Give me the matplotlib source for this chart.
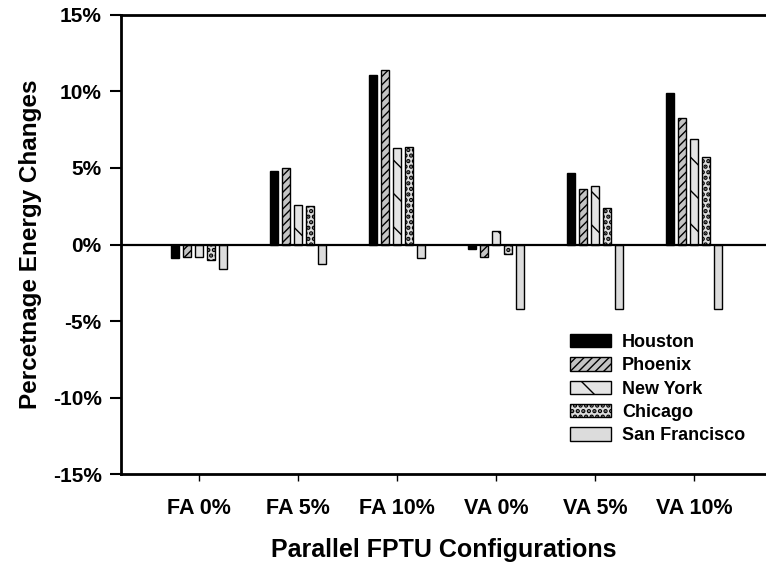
import numpy as np
import matplotlib
matplotlib.use("Agg")
import matplotlib.pyplot as plt
from matplotlib.patches import Patch
from matplotlib.ticker import FuncFormatter

# Configurations and per-city energy changes (%)
configs = ["FA 0%", "FA 5%", "FA 10%", "VA 0%", "VA 5%", "VA 10%"]
cities = ["Houston", "Phoenix", "New York", "Chicago", "San Francisco"]

houston = [-0.9, 4.8, 11.1, -0.3, 4.7, 9.9]
phoenix = [-0.8, 5.0, 11.4, -0.8, 3.6, 8.3]
new_york = [-0.8, 2.6, 6.3, 0.9, 3.8, 6.9]
chicago = [-1.0, 2.5, 6.4, -0.6, 2.4, 5.7]
san_francisco = [-1.6, -1.3, -0.85, -4.2, -4.2, -4.2]

series = [houston, phoenix, new_york, chicago, san_francisco]
faces = ["#000000", "#c4c4c4", "#e4e4e4", "#dedede", "#dcdcdc"]
hatches = [None, "////", "\\", "...", None]
hatch_widths = [1.0, 1.0, 1.0, 2.2, 1.0]

plt.rcParams["font.family"] = ["Liberation Sans", "DejaVu Sans"]
plt.rcParams["font.weight"] = "bold"
plt.rcParams["hatch.linewidth"] = 1.0


def set_hw(patch, w):
    try:
        patch.set_hatch_linewidth(w)
    except AttributeError:
        pass


fig = plt.figure(figsize=(7.66, 5.63), dpi=100)
ax = fig.add_axes([0.158, 0.158, 0.842, 0.8154])

x = np.arange(len(configs))
step = 0.122
width = 0.076
for i, (vals, fc, h, hw) in enumerate(zip(series, faces, hatches, hatch_widths)):
    bars = ax.bar(x + (i - 2) * step, vals, width, color=fc, edgecolor="black",
                  linewidth=1.0, hatch=h, zorder=2)
    for b in bars:
        set_hw(b, hw)

ax.axhline(0, color="black", linewidth=1.6, zorder=3)

ax.set_xlim(-0.788, 5.727)
ax.set_ylim(-15, 15)
ax.set_yticks([-15, -10, -5, 0, 5, 10, 15])
ax.yaxis.set_major_formatter(FuncFormatter(lambda v, p: f"{v:.0f}%"))
ax.set_xticks(x)
ax.set_xticklabels(configs)

ax.tick_params(axis="y", direction="out", length=8, width=1.5,
               labelsize=15, pad=6)
ax.tick_params(axis="x", direction="out", length=5, width=1.0,
               labelsize=15.5, pad=12)
for lab in ax.get_xticklabels() + ax.get_yticklabels():
    lab.set_fontweight("bold")

for side in ["left", "top", "bottom"]:
    ax.spines[side].set_linewidth(2.0)
ax.spines["right"].set_visible(False)

ax.set_xlabel("Parallel FPTU Configurations", fontsize=18, fontweight="bold",
              labelpad=14)
ax.set_ylabel("Percetnage Energy Changes", fontsize=17.5, fontweight="bold",
              labelpad=8)

handles = []
for fc, h, hw in zip(faces, hatches, hatch_widths):
    p = Patch(facecolor=fc, edgecolor="black", hatch=h, linewidth=1.0)
    set_hw(p, hw)
    handles.append(p)
leg = ax.legend(handles, cities, loc="upper left", bbox_to_anchor=(0.696, 0.305),
                frameon=False, prop={"size": 13, "weight": "bold"},
                borderaxespad=0, borderpad=0,
                handlelength=2.28, handleheight=0.75, labelspacing=0.35,
                handletextpad=0.6)
for p, hw in zip(leg.get_patches(), hatch_widths):
    set_hw(p, hw)

fig.savefig("out.png", dpi=100)
